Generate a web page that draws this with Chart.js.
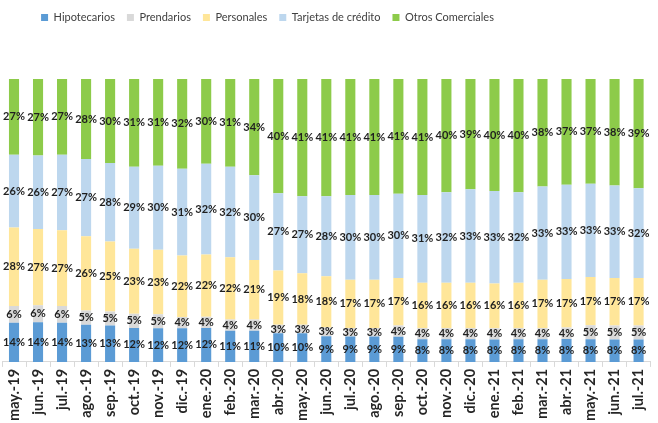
<!DOCTYPE html>
<html>
<head>
<meta charset="utf-8">
<script src="https://cdn.jsdelivr.net/npm/chart.js@4"></script>
<style>
  html, body { margin: 0; padding: 0; background: #fff; }
  #wrap { width: 658px; height: 423px; }
</style>
</head>
<body>
<div id="wrap"><canvas id="bars"></canvas></div>
<script>
var meses = ["may.-19","jun.-19","jul.-19","ago.-19","sep.-19","oct.-19","nov.-19","dic.-19",
  "ene.-20","feb.-20","mar.-20","abr.-20","may.-20","jun.-20","jul.-20","ago.-20","sep.-20",
  "oct.-20","nov.-20","dic.-20","ene.-21","feb.-21","mar.-21","abr.-21","may.-21","jun.-21","jul.-21"];

var hipotecarios = [14,14,14,13,13,12,12,12,12,11,11,10,10,9,9,9,9,8,8,8,8,8,8,8,8,8,8];
var prendarios   = [6,6,6,5,5,5,5,4,4,4,4,3,3,3,3,3,4,4,4,4,4,4,4,4,5,5,5];
var personales   = [28,27,27,26,25,23,23,22,22,22,21,19,18,18,17,17,17,16,16,16,16,16,17,17,17,17,17];
var tarjetas     = [26,26,27,27,28,29,30,31,32,32,30,27,27,28,30,30,30,31,32,33,33,32,33,33,33,33,32];
var otros        = [27,27,27,28,30,31,31,32,30,31,34,40,41,41,41,41,41,41,40,39,40,40,38,37,37,38,39];

var series = [hipotecarios, prendarios, personales, tarjetas, otros];
var nombres = ["Hipotecarios","Prendarios","Personales","Tarjetas de crédito","Otros Comerciales"];
var colores = ["#5b9bd5","#d9d9d9","#ffe699","#bdd7ee","#8dcb4a"];

// each bar fills 100%: share of the month total
var totales = meses.map(function(m, i) {
  return series.reduce(function(s, arr) { return s + arr[i]; }, 0);
});

var datasets = series.map(function(arr, k) {
  return {
    label: nombres[k],
    data: arr.map(function(v, i) { return v / totales[i] * 100; }),
    raw: arr,
    backgroundColor: colores[k],
    barPercentage: 0.42,
    categoryPercentage: 1
  };
});

var pctLabels = {
  id: 'pctLabels',
  afterDatasetsDraw: function(chart) {
    var ctx = chart.ctx;
    ctx.save();
    ctx.font = 'bold 11px Lato, "Open Sans", sans-serif';
    ctx.fillStyle = '#1f1f1f';
    ctx.textAlign = 'center';
    ctx.textBaseline = 'middle';
    chart.data.datasets.forEach(function(ds, k) {
      chart.getDatasetMeta(k).data.forEach(function(bar, i) {
        var yMid = (bar.y + bar.base) / 2;
        ctx.fillText(ds.raw[i] + '%', bar.x, yMid);
      });
    });
    ctx.restore();
  }
};

// extra room under the legend, and legend sits left of centre like the original
var legendGap = {
  id: 'legendGap',
  beforeInit: function(chart) {
    var fit = chart.legend.fit;
    chart.legend.fit = function() {
      fit.bind(chart.legend)();
      this.height += 46;
    };
  },
  afterLayout: function(chart) {
    chart.legend.left -= 62;
    chart.legend.right -= 62;
  }
};

new Chart(document.getElementById('bars'), {
  type: 'bar',
  data: { labels: meses, datasets: datasets },
  plugins: [pctLabels, legendGap],
  options: {
    responsive: true,
    maintainAspectRatio: false,
    animation: false,
    layout: { padding: { left: 2, right: 1, top: 0, bottom: 0 } },
    plugins: {
      legend: {
        position: 'top',
        labels: {
          boxWidth: 7,
          boxHeight: 7,
          padding: 12,
          color: '#404040',
          font: { family: 'Lato, "Open Sans", sans-serif', size: 11 }
        }
      },
      tooltip: { enabled: false }
    },
    scales: {
      x: {
        stacked: true,
        grid: { drawOnChartArea: false, color: '#d9d9d9', tickLength: 5 },
        border: { color: '#d9d9d9' },
        ticks: {
          maxRotation: 90,
          minRotation: 90,
          color: '#262626',
          padding: 2,
          font: { family: 'Lato, "Open Sans", sans-serif', size: 14.5, weight: 'bold' }
        }
      },
      y: {
        stacked: true,
        display: false,
        min: 0,
        max: 100
      }
    }
  }
});
</script>
</body>
</html>
